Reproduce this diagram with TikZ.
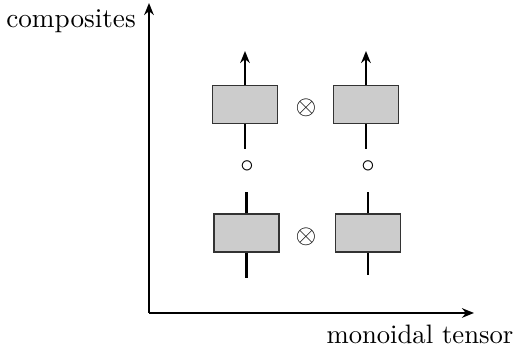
\documentclass[tikz,border=0pt]{standalone}
\usetikzlibrary{positioning, arrows.meta}

\begin{document}
\begin{tikzpicture}[x=0.375pt, y=-0.375pt, line width=0.9pt, >={Stealth[length=4.5pt, width=3.6pt]}]
    % Define colours
    \definecolor{boxColour}{HTML}{CCCCCC}

    % Define styles
    \tikzset{
        morphism/.style={draw=black!80, line width=0.45pt, fill=boxColour, minimum width=24.4pt, minimum height=14.2pt, inner sep=0pt},
        wire/.style={line width=1pt},
        op/.style={inner sep=0pt}
    }

    % Fix the picture size
    \useasboundingbox (0,0) rectangle (513,351);

    % Draw axes
    \coordinate (O) at (149,313);
    \coordinate (Ytip) at (149,3);
    \coordinate (Xtip) at (474,313);
    \draw[->] (O) -- (Ytip);
    \draw[->] (O) -- (Xtip);

    % Label axes
    \node[anchor=east, inner sep=0pt, scale=1.02] (comp) at (137,21) {composites};
    \node[inner sep=0pt] (tens) at (420,334) {monoidal tensor};

    % Top row of boxes
    \node[morphism] (f1) at (245,104.5) {};
    \node[morphism] (f2) at (366,104.5) {};
    \node[op] (tensTop) at (306,108) {$\otimes$};

    % Bottom row of boxes
    \node[morphism] (g1) at (246.5,233) {};
    \node[morphism] (g2) at (368,233) {};
    \node[op] (tensBot) at (306,237) {$\otimes$};

    % Composition symbols
    \node[op] (comp1) at (247,167) {$\circ$};
    \node[op] (comp2) at (368,167) {$\circ$};

    % Wire ends
    \coordinate (f1out) at (245,51);
    \coordinate (f2out) at (366,51);
    \coordinate (f1in) at (245,149);
    \coordinate (f2in) at (366,149);
    \coordinate (g1out) at (246.5,192);
    \coordinate (g2out) at (368,192);
    \coordinate (g1in) at (246.5,278);
    \coordinate (g2in) at (368,275);

    % Draw wires
    \draw[wire,->] (f1.north) -- (f1out);
    \draw[wire,->] (f2.north) -- (f2out);
    \draw[wire] (f1.south) -- (f1in);
    \draw[wire] (f2.south) -- (f2in);
    \draw[wire] (g1.north) -- (g1out);
    \draw[wire] (g2.north) -- (g2out);
    \draw[wire] (g1.south) -- (g1in);
    \draw[wire] (g2.south) -- (g2in);

\end{tikzpicture}
\end{document}
